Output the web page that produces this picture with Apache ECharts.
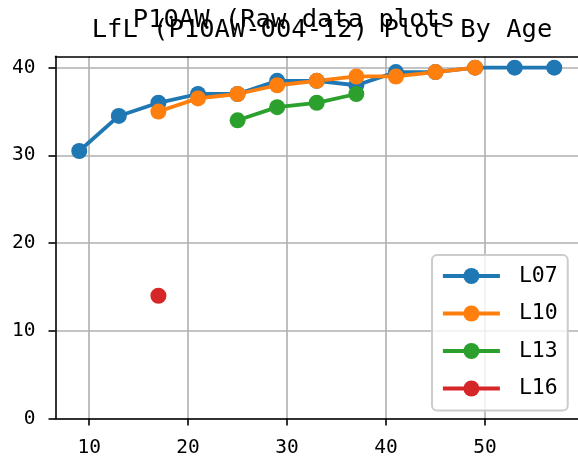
<!DOCTYPE html>
<html>
<head>
<meta charset="utf-8">
<script src="https://cdn.jsdelivr.net/npm/echarts@6/dist/echarts.min.js"></script>
<style>html,body{margin:0;padding:0;background:#fff;}#c{width:578px;height:462px;}</style>
</head>
<body>
<div id="c"></div>
<script>
const suptitle = 'P10AW (Raw data plots';
const axTitle = 'LfL (P10AW-004-12) Plot By Age';
const seriesNames = ['L07', 'L10', 'L13', 'L16'];
const colors = ['#1f77b4', '#ff7f0e', '#2ca02c', '#d62728'];
const L07_x = [9, 13, 17, 21, 25, 29, 33, 37, 41, 45, 49, 53, 57];
const L07_y = [30.5, 34.5, 36, 37, 37, 38.5, 38.5, 38, 39.5, 39.5, 40, 40, 40];
const L10_x = [17, 21, 25, 29, 33, 37, 41, 45, 49];
const L10_y = [35, 36.5, 37, 38, 38.5, 39, 39, 39.5, 40];
const L13_x = [25, 29, 33, 37];
const L13_y = [34, 35.5, 36, 37];
const L16_x = [17];
const L16_y = [14];
const xTicks = [10, 20, 30, 40, 50];
const yTicks = [0, 10, 20, 30, 40];

const xs = [L07_x, L10_x, L13_x, L16_x];
const ys = [L07_y, L10_y, L13_y, L16_y];
const FONT = 'DejaVu Sans Mono';

const chart = echarts.init(document.getElementById('c'), null, {renderer: 'canvas'});
chart.setOption({
  animation: false,
  backgroundColor: '#fff',
  title: [
    {text: axTitle, left: 317, textAlign: 'center', top: 12,
     textStyle: {fontFamily: FONT, fontSize: 25.5, fontWeight: 'normal', color: '#000'}},
    {text: suptitle, left: 289, textAlign: 'center', top: 2,
     textStyle: {fontFamily: FONT, fontSize: 25.5, fontWeight: 'normal', color: '#000'}}
  ],
  grid: {left: 55.5, right: -2.5, top: 56.3, bottom: 43.5, show: false},
  xAxis: [{
    type: 'value', min: 6.6, max: 59.4,
    axisLine: {show: true, onZero: false, lineStyle: {color: '#000', width: 1.6}},
    axisTick: {show: true, customValues: xTicks, length: 7, lineStyle: {color: '#000', width: 1.6}},
    axisLabel: {customValues: xTicks, margin: 19, color: '#000', fontFamily: FONT, fontSize: 19.5},
    splitLine: {show: true, lineStyle: {color: '#b0b0b0', width: 1.6}}
  }, {
    type: 'value', position: 'top', min: 6.6, max: 59.4,
    axisLine: {show: true, onZero: false, lineStyle: {color: '#000', width: 1.6}},
    axisTick: {show: false}, axisLabel: {show: false}, splitLine: {show: false}
  }],
  yAxis: {
    type: 'value', min: 0, max: 41.3,
    axisLine: {show: true, onZero: false, lineStyle: {color: '#000', width: 1.6}},
    axisTick: {show: true, customValues: yTicks, length: 7, lineStyle: {color: '#000', width: 1.6}},
    axisLabel: {customValues: yTicks, margin: 20, color: '#000', fontFamily: FONT, fontSize: 19.5},
    splitLine: {show: true, lineStyle: {color: '#b0b0b0', width: 1.6}}
  },
  legend: {
    orient: 'vertical', left: 432, top: 255,
    data: seriesNames,
    itemWidth: 57, itemHeight: 20, itemGap: 15.5,
    padding: [10, 10, 11, 9],
    backgroundColor: 'rgba(255,255,255,0.8)',
    borderColor: '#cccccc', borderWidth: 2, borderRadius: 5,
    lineStyle: {width: 3.8},
    textStyle: {fontFamily: FONT, fontSize: 21.5, color: '#000', padding: [0, 0, 0, 14]}
  },
  series: seriesNames.map((n, i) => ({
    name: n, type: 'line', xAxisIndex: 0,
    data: xs[i].map((x, j) => [x, ys[i][j]]),
    symbol: 'circle', symbolSize: 16,
    color: colors[i],
    itemStyle: {color: colors[i]},
    lineStyle: {color: colors[i], width: 3.8},
    emphasis: {disabled: true}
  }))
});
</script>
</body>
</html>
